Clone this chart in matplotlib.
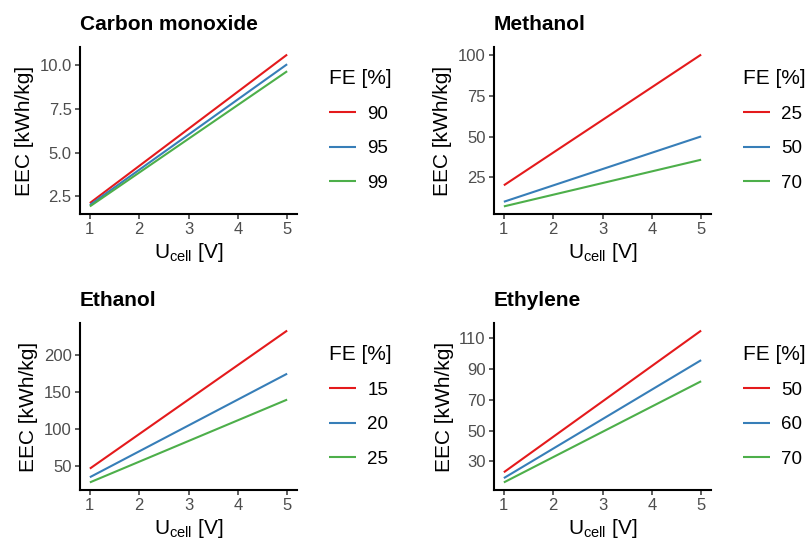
import numpy as np
import matplotlib.pyplot as plt

plt.rcParams['font.family'] = ['Liberation Sans', 'DejaVu Sans']
plt.rcParams['mathtext.fontset'] = 'custom'
plt.rcParams['mathtext.rm'] = 'Liberation Sans'
plt.rcParams['mathtext.it'] = 'Liberation Sans:italic'

# cell voltage (V)
u_cell = [1, 5]

# Carbon monoxide, EEC in kWh/kg
co_fe = ['90', '95', '99']
co_eec = [[2.12, 10.6], [2.01, 10.05], [1.93, 9.65]]
co_ticks = [2.5, 5.0, 7.5, 10.0]

# Methanol
meoh_fe = ['25', '50', '70']
meoh_eec = [[20.1, 100.3], [10.0, 50.1], [7.15, 35.8]]
meoh_ticks = [25, 50, 75, 100]

# Ethanol
etoh_fe = ['15', '20', '25']
etoh_eec = [[46.5, 232.5], [34.9, 174.4], [27.9, 139.5]]
etoh_ticks = [50, 100, 150, 200]

# Ethylene
c2h4_fe = ['50', '60', '70']
c2h4_eec = [[23.0, 115.0], [19.2, 95.8], [16.4, 82.1]]
c2h4_ticks = [30, 50, 70, 90, 110]

colores = ['#E41A1C', '#377EB8', '#4DAF4A']

fig = plt.figure(figsize=(8.1, 5.42), dpi=100)

W, H = 810, 542
paneles = [
    ('Carbon monoxide', co_fe, co_eec, co_ticks, '{:.1f}', 80, 47),
    ('Methanol', meoh_fe, meoh_eec, meoh_ticks, '{:.0f}', 494, 47),
    ('Ethanol', etoh_fe, etoh_eec, etoh_ticks, '{:.0f}', 80, 323),
    ('Ethylene', c2h4_fe, c2h4_eec, c2h4_ticks, '{:.0f}', 494, 323),
]

for titulo, fe, eec, ticks, fmt, x0, y0 in paneles:
    ax = fig.add_axes([x0 / W, 1 - (y0 + 167) / H, 217 / W, 167 / H])
    for i in range(len(fe)):
        ax.plot(u_cell, eec[i], color=colores[i], lw=1.5, label=fe[i],
                solid_capstyle='butt')
    # expansion 5% como ggplot
    vals = np.array(eec)
    lo, hi = vals.min(), vals.max()
    pad = 0.05 * (hi - lo)
    ax.set_ylim(lo - pad, hi + pad)
    ax.set_xlim(0.8, 5.2)
    ax.set_xticks([1, 2, 3, 4, 5])
    ax.set_yticks(ticks)
    ax.set_yticklabels([fmt.format(t) for t in ticks])
    for s in ['top', 'right']:
        ax.spines[s].set_visible(False)
    for s in ['left', 'bottom']:
        ax.spines[s].set_linewidth(1.5)
        ax.spines[s].set_color('black')
    ax.tick_params(labelsize=12, labelcolor='#4D4D4D', color='#333333',
                   length=3.5, width=1.1, pad=2.5)
    ax.set_xlabel(r'U$_{\mathrm{cell}}$ [V]', fontsize=15, labelpad=3)
    ax.set_ylabel('EEC [kWh/kg]', fontsize=15, labelpad=4)
    ax.set_title(titulo, loc='left', fontsize=15, fontweight='bold', pad=12.5)
    leg = ax.legend(title='FE [%]', loc='upper left',
                    bbox_to_anchor=((x0 + 249) / W, 1 - (y0 + 22) / H),
                    bbox_transform=fig.transFigure, frameon=False,
                    fontsize=13.5, title_fontsize=15, handlelength=1.45,
                    handletextpad=0.6, labelspacing=0.93, borderaxespad=0,
                    borderpad=0)
    leg._legend_box.align = 'left'

fig.savefig('out.png', dpi=100)
